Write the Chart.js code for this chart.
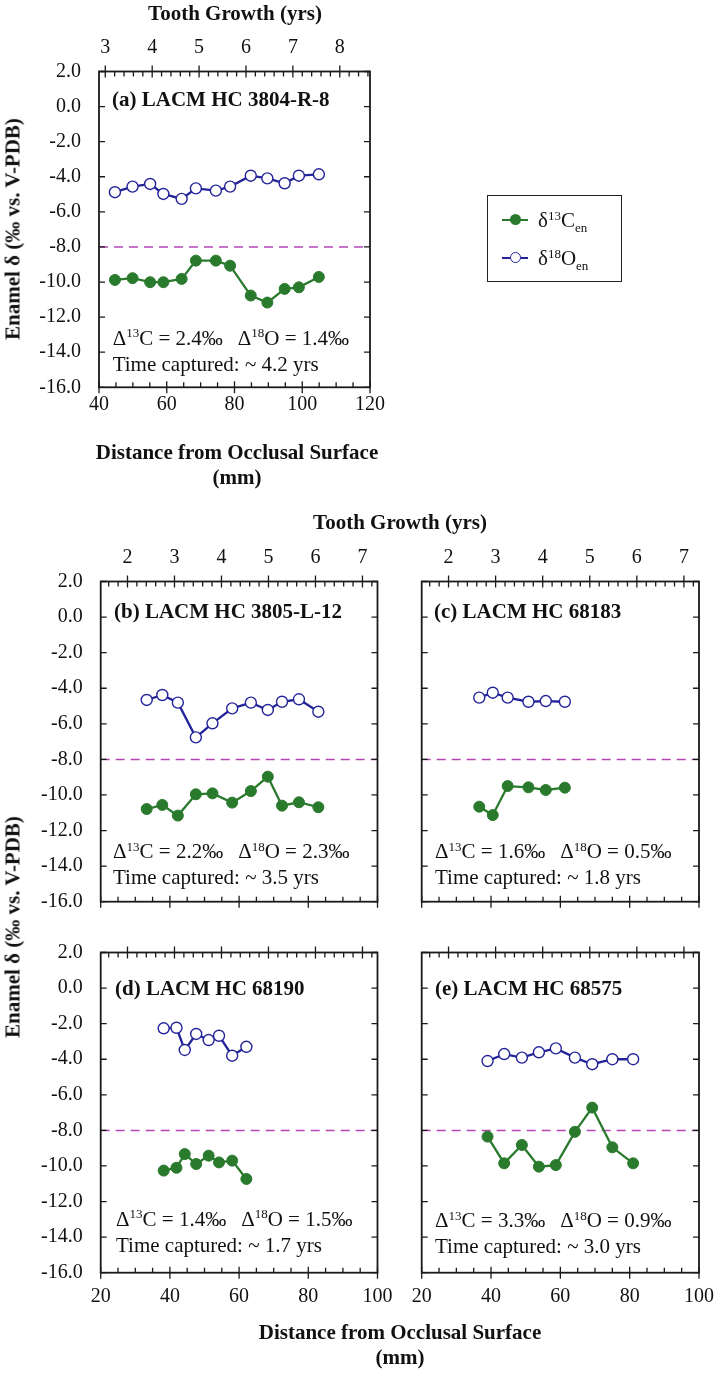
<!DOCTYPE html>
<html><head><meta charset="utf-8">
<script src="https://cdn.jsdelivr.net/npm/chart.js@4.4.1/dist/chart.umd.min.js"></script>
<style>
html,body{margin:0;background:#fff;overflow:hidden}
body{width:718px;height:1373px;position:relative;font-family:"Liberation Serif","Times New Roman",serif;color:#111}
canvas{position:absolute;left:0}
.t{position:absolute;white-space:nowrap;line-height:1;font-size:21px}
.b{font-weight:bold}
.c{transform:translate(-50%,-50%)}
.l{transform:translate(0,-50%)}
.r90{transform:translate(-50%,-50%) rotate(-90deg)}
.sup{font-size:0.62em;position:relative;top:-0.55em}
.sub{font-size:0.62em;position:relative;top:0.35em}
.gap{display:inline-block;width:15px}
#legend{position:absolute;left:487px;top:195px;width:135px;height:87px;border:1.5px solid #222;box-sizing:border-box}
.lgline{position:absolute;left:14px;width:26px;height:2px}
.lgdot{position:absolute;width:11px;height:11px;border-radius:50%;box-sizing:border-box}
</style></head><body>
<script>
// ---------- data ----------
const REF = -8.0;
const deltaTicks = [2, 0, -2, -4, -6, -8, -10, -12, -14, -16];
const mmTicksA = [40, 60, 80, 100, 120];
const mmTicks = [20, 40, 60, 80, 100];
const yrTicksA = [3, 4, 5, 6, 7, 8];
const yrTicks = [2, 3, 4, 5, 6, 7];
const mmRangeA = [40, 120];
const mmRange = [20, 100];
const yrRangeA = [2.866, 8.644];
const yrRange = [1.43, 7.32];

const distA = [44.7, 49.9, 55.1, 59.0, 64.4, 68.6, 74.5, 78.7, 84.8, 89.7, 94.8, 99.0, 104.9];
const carbA = [-9.88, -9.78, -10.01, -10.01, -9.82, -8.78, -8.78, -9.07, -10.77, -11.17, -10.39, -10.30, -9.71];
const oxyA  = [-4.88, -4.56, -4.41, -4.98, -5.26, -4.66, -4.79, -4.56, -3.94, -4.09, -4.37, -3.94, -3.86];

const distB = [33.3, 37.8, 42.3, 47.5, 52.3, 58.0, 63.4, 68.3, 72.4, 77.3, 82.9];
const carbB = [-10.79, -10.56, -11.16, -9.96, -9.91, -10.43, -9.78, -8.97, -10.60, -10.41, -10.69];
const oxyB  = [-4.66, -4.38, -4.81, -6.76, -5.97, -5.13, -4.81, -5.22, -4.76, -4.62, -5.32];

const distC = [36.6, 40.5, 44.8, 50.8, 55.8, 61.3];
const carbC = [-10.66, -11.13, -9.50, -9.57, -9.72, -9.59];
const oxyC  = [-4.53, -4.25, -4.53, -4.76, -4.72, -4.76];

const distD = [38.2, 41.9, 44.3, 47.6, 51.2, 54.2, 58.0, 62.1];
const carbD = [-10.26, -10.10, -9.33, -9.89, -9.42, -9.80, -9.70, -10.73];
const oxyD  = [-2.26, -2.23, -3.48, -2.58, -2.92, -2.68, -3.80, -3.30];

const distE = [39.0, 43.8, 48.9, 53.8, 58.7, 64.2, 69.2, 75.0, 81.0];
const carbE = [-8.35, -9.85, -8.82, -10.04, -9.95, -8.08, -6.72, -8.95, -9.85];
const oxyE  = [-4.10, -3.71, -3.91, -3.61, -3.39, -3.91, -4.28, -4.00, -4.00];

const GREEN = '#2a7a2e';
const BLUE = '#24249a';
const MAG = '#b545b5';
const INK = '#1a1a1a';
const CW = 780; // canvas width (extra room on the right is clipped)

Chart.defaults.font.family = "'Liberation Serif','Times New Roman',serif";
Chart.defaults.font.size = 20;
Chart.defaults.color = '#111';

const frameTicks = {
  id: 'frameTicks',
  afterDraw(chart) {
    const {ctx, chartArea: a, scales} = chart;
    const o = chart.options.plugins.frameTicks;
    ctx.save();
    ctx.strokeStyle = INK;
    ctx.lineWidth = 1.3;
    ctx.beginPath();
    for (const v of o.yMajor) {
      const p = scales.y.getPixelForValue(v);
      ctx.moveTo(a.left, p); ctx.lineTo(a.left + 6, p);
      ctx.moveTo(a.right, p); ctx.lineTo(a.right - 6, p);
    }
    const xs = scales.x;
    const n1 = Math.round((xs.max - xs.min) / o.mmMinor);
    for (let k = 0; k <= n1; k++) {
      const v = xs.min + k * o.mmMinor;
      const p = xs.getPixelForValue(v);
      if (o.mmMajor.some(m => Math.abs(m - v) < 1e-6)) {
        ctx.moveTo(p, a.bottom + 6); ctx.lineTo(p, a.bottom - 6);
      } else {
        ctx.moveTo(p, a.bottom); ctx.lineTo(p, a.bottom - 5);
      }
    }
    const ts = scales.x2;
    const k0 = Math.ceil(ts.min / o.yrMinor - 1e-6), k1 = Math.floor(ts.max / o.yrMinor + 1e-6);
    for (let k = k0; k <= k1; k++) {
      const v = k * o.yrMinor;
      const p = ts.getPixelForValue(v);
      if (o.yrMajor.some(m => Math.abs(m - v) < 1e-6)) {
        ctx.moveTo(p, a.top - 6); ctx.lineTo(p, a.top + 6);
      } else {
        ctx.moveTo(p, a.top); ctx.lineTo(p, a.top + 5);
      }
    }
    ctx.stroke();
    ctx.lineWidth = 1.8;
    ctx.strokeRect(a.left, a.top, a.right - a.left, a.bottom - a.top);
    ctx.restore();
  }
};

function fixedTicks(list) { return s => { s.ticks = list.map(v => ({value: v})); }; }

function makePanel(cfg) {
  const cv = document.createElement('canvas');
  cv.width = CW; cv.height = cfg.h; cv.style.top = cfg.top + 'px';
  cv.style.width = CW + 'px'; cv.style.height = cfg.h + 'px';
  document.body.appendChild(cv);
  const A = cfg.area;
  const tLocal = A.t - cfg.top, bLocal = A.b - cfg.top;
  new Chart(cv, {
    type: 'line',
    data: {datasets: [
      {label: 'C', xAxisID: 'x', yAxisID: 'y', data: cfg.dist.map((x, i) => ({x, y: cfg.carb[i]})),
       borderColor: GREEN, backgroundColor: GREEN, pointBackgroundColor: GREEN, pointBorderColor: GREEN,
       pointRadius: 5.5, pointBorderWidth: 1, borderWidth: 2.3, tension: 0},
      {label: 'O', xAxisID: 'x', yAxisID: 'y', data: cfg.dist.map((x, i) => ({x, y: cfg.oxy[i]})),
       borderColor: BLUE, backgroundColor: '#fff', pointBackgroundColor: '#fff', pointBorderColor: BLUE,
       pointRadius: 5.5, pointBorderWidth: 1.4, borderWidth: 2.3, tension: 0},
      {label: 'ref', xAxisID: 'x', yAxisID: 'y', data: [{x: cfg.mm[0], y: REF}, {x: cfg.mm[1], y: REF}],
       borderColor: MAG, borderDash: [9, 6], borderWidth: 1.5, pointRadius: 0}
    ]},
    options: {
      responsive: false, animation: false, devicePixelRatio: 1,
      layout: {padding: {left: 0, top: 0, right: CW - A.r, bottom: 0}},
      plugins: {legend: {display: false}, tooltip: {enabled: false},
        frameTicks: {yMajor: deltaTicks, mmMajor: cfg.mmT, mmMinor: 5, yrMajor: cfg.yrT, yrMinor: 0.2}},
      scales: {
        x: {type: 'linear', position: 'bottom', min: cfg.mm[0], max: cfg.mm[1],
            afterBuildTicks: fixedTicks(cfg.mmT), afterFit: s => { s.height = cfg.h - bLocal; },
            grid: {display: false, drawTicks: false}, border: {display: false},
            ticks: {display: cfg.showX, padding: cfg.xPad, maxRotation: 0, autoSkip: false}},
        x2: {type: 'linear', position: 'top', axis: 'x', min: cfg.yr[0], max: cfg.yr[1],
            afterBuildTicks: fixedTicks(cfg.yrT), afterFit: s => { s.height = tLocal; },
            grid: {display: false, drawTicks: false}, border: {display: false},
            ticks: {display: cfg.showTop, padding: 12, maxRotation: 0, autoSkip: false}},
        y: {type: 'linear', position: 'left', min: -16, max: 2,
            afterBuildTicks: fixedTicks(deltaTicks), afterFit: s => { s.width = A.l; },
            grid: {display: false, drawTicks: false}, border: {display: false},
            ticks: {display: cfg.showY, padding: 18, autoSkip: false, callback: v => Number(v).toFixed(1)}}
      }
    },
    plugins: [frameTicks]
  });
}

makePanel({top: 0, h: 440, area: {l: 99, t: 71.5, r: 370, b: 387.3}, dist: distA, carb: carbA, oxy: oxyA,
  mm: mmRangeA, mmT: mmTicksA, yr: yrRangeA, yrT: yrTicksA, showX: true, showTop: true, showY: true, xPad: 5});
makePanel({top: 500, h: 440, area: {l: 100.7, t: 581.5, r: 377.5, b: 901.7}, dist: distB, carb: carbB, oxy: oxyB,
  mm: mmRange, mmT: mmTicks, yr: yrRange, yrT: yrTicks, showX: false, showTop: true, showY: true, xPad: 12});
makePanel({top: 500, h: 440, area: {l: 421.7, t: 581.5, r: 699, b: 901.7}, dist: distC, carb: carbC, oxy: oxyC,
  mm: mmRange, mmT: mmTicks, yr: yrRange, yrT: yrTicks, showX: false, showTop: true, showY: false, xPad: 12});
makePanel({top: 900, h: 473, area: {l: 100.7, t: 952.5, r: 377.5, b: 1272.7}, dist: distD, carb: carbD, oxy: oxyD,
  mm: mmRange, mmT: mmTicks, yr: yrRange, yrT: yrTicks, showX: true, showTop: false, showY: true, xPad: 12});
makePanel({top: 900, h: 473, area: {l: 421.7, t: 952.5, r: 699, b: 1272.7}, dist: distE, carb: carbE, oxy: oxyE,
  mm: mmRange, mmT: mmTicks, yr: yrRange, yrT: yrTicks, showX: true, showTop: false, showY: false, xPad: 12});

// ---------- text ----------
function txt(html, x, y, cls) {
  const d = document.createElement('div');
  d.className = 't ' + cls;
  d.style.left = x + 'px'; d.style.top = y + 'px';
  d.innerHTML = html;
  document.body.appendChild(d);
}
const yTitle = 'Enamel δ (‰ vs. V-PDB)';
txt('Tooth Growth (yrs)', 235, 13, 'b c');
txt('Tooth Growth (yrs)', 400, 522, 'b c');
txt('Distance from Occlusal Surface', 237, 452, 'b c');
txt('(mm)', 237, 477, 'b c');
txt('Distance from Occlusal Surface', 400, 1332, 'b c');
txt('(mm)', 400, 1357, 'b c');
txt(yTitle, 13, 229, 'b r90');
txt(yTitle, 13, 927, 'b r90');

const panelNames = ['(a) LACM HC 3804-R-8', '(b) LACM HC 3805-L-12', '(c) LACM HC 68183', '(d) LACM HC 68190', '(e) LACM HC 68575'];
const panelPos = [[112, 99], [114, 611], [434, 611], [115, 988], [435, 988]];
panelNames.forEach((n, i) => txt(n, panelPos[i][0], panelPos[i][1], 'b l'));

const dC = ['2.4', '2.2', '1.6', '1.4', '3.3'];
const dO = ['1.4', '2.3', '0.5', '1.5', '0.9'];
const tCap = ['4.2', '3.5', '1.8', '1.7', '3.0'];
const annPos = [[112.7, 337.5], [113, 851], [435, 851], [116, 1218.5], [435, 1220]];
dC.forEach((c, i) => {
  const [x, y] = annPos[i];
  txt('Δ<span class="sup">13</span>C = ' + c + '‰<span class="gap"></span>Δ<span class="sup">18</span>O = ' + dO[i] + '‰', x, y, 'l');
  txt('Time captured: ~ ' + tCap[i] + ' yrs', x, y + 26, 'l');
});

const lg = document.createElement('div');
lg.id = 'legend';
lg.innerHTML =
  '<div class="lgline" style="top:22.5px;background:' + GREEN + '"></div>' +
  '<div class="lgdot" style="left:21.5px;top:18px;background:' + GREEN + '"></div>' +
  '<div class="t l" style="left:50px;top:24px">δ<span class="sup">13</span>C<span class="sub">en</span></div>' +
  '<div class="lgline" style="top:60.5px;background:' + BLUE + '"></div>' +
  '<div class="lgdot" style="left:21.5px;top:56px;background:#fff;border:1.5px solid ' + BLUE + '"></div>' +
  '<div class="t l" style="left:50px;top:62px">δ<span class="sup">18</span>O<span class="sub">en</span></div>';
document.body.appendChild(lg);
</script>
</body></html>
